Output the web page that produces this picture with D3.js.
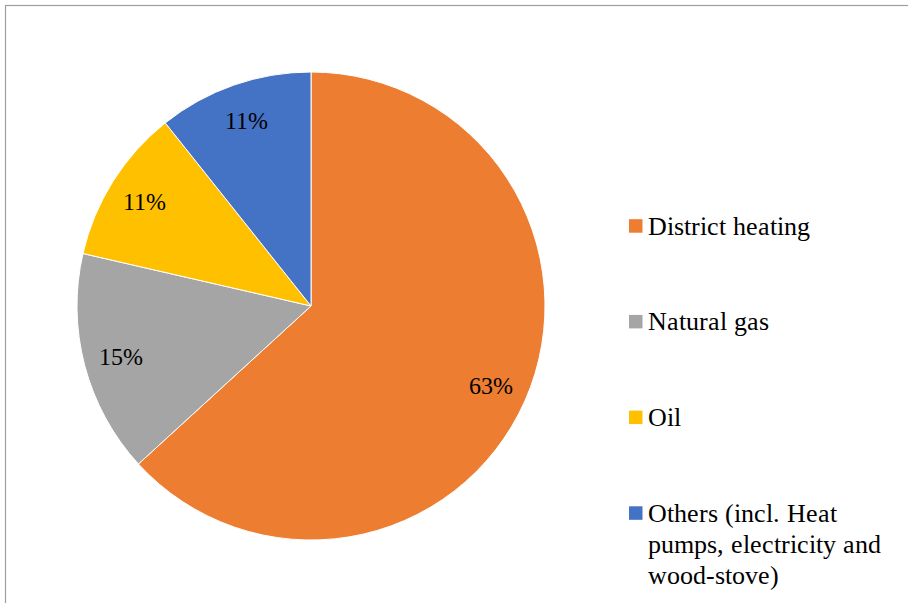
<!DOCTYPE html>
<html>
<head>
<meta charset="utf-8">
<script src="https://cdn.jsdelivr.net/npm/d3@7"></script>
<style>
@font-face { font-family: "RefSerif"; src: local("Liberation Serif"), local("LiberationSerif"), local("Liberation Serif Regular"), local("LiberationSerif-Regular"), local("Times New Roman"); }
</style>
</head>
<body style="margin:0">
<svg id="chart" width="908" height="603" style="display:block"></svg>
<script>
const categories = ["District heating", "Natural gas", "Oil", "Others (incl. Heat pumps, electricity and wood-stove)"];
const values = [63.2, 15.4, 10.7, 10.7];
const colors = ["#ED7D31", "#A5A5A5", "#FFC000", "#4472C4"];

const FONT = "RefSerif, Liberation Serif, serif";
const W = 908, H = 603;
const cx = 311, cy = 306, R = 234;

function draw() {
  const svg = d3.select("#chart");

  svg.append("rect").attr("x", 5.5).attr("y", 5.5).attr("width", W + 10).attr("height", H + 10)
    .attr("fill", "#fff").attr("stroke", "#9e9e9e").attr("stroke-width", 1.2);

  const data = categories.map((c, i) => ({ name: c, value: values[i], color: colors[i] }));
  const total = d3.sum(values);

  const pie = d3.pie().value(d => d.value).sort(null);
  const arc = d3.arc().innerRadius(0).outerRadius(R);
  const labelArc = d3.arc().innerRadius(R * 0.84).outerRadius(R * 0.84);

  const g = svg.append("g").attr("transform", `translate(${cx},${cy})`);
  const arcs = pie(data);

  g.selectAll("path").data(arcs).join("path")
    .attr("d", arc)
    .attr("fill", d => d.data.color)
    .attr("stroke", "#fff")
    .attr("stroke-width", 1);

  g.selectAll("text.lbl").data(arcs).join("text")
    .attr("class", "lbl")
    .attr("x", d => labelArc.centroid(d)[0])
    .attr("y", d => labelArc.centroid(d)[1] + 8.5)
    .attr("text-anchor", "middle")
    .style("font-family", FONT)
    .attr("font-size", 24)
    .attr("fill", "#000")
    .text(d => Math.round(d.data.value / total * 100) + "%");

  const legX = 629, legTextX = 648, legY0 = 234.5, legStep = 95.7, lineH = 31.3, sq = 13.5;
  const maxChars = 22;
  const leg = svg.append("g");
  data.forEach((d, i) => {
    const by = legY0 + i * legStep;
    leg.append("rect").attr("x", legX).attr("y", by - 15.3).attr("width", sq).attr("height", sq).attr("fill", d.color);
    const lines = [];
    let cur = "";
    d.name.split(" ").forEach(w => {
      const next = cur ? cur + " " + w : w;
      if (next.length > maxChars && cur) { lines.push(cur); cur = w; } else { cur = next; }
    });
    lines.push(cur);
    lines.forEach((ln, k) => {
      leg.append("text").attr("x", legTextX).attr("y", by + k * lineH)
        .style("font-family", FONT).attr("font-size", 26).attr("fill", "#000")
        .text(ln);
    });
  });
}
draw();
</script>
</body>
</html>
